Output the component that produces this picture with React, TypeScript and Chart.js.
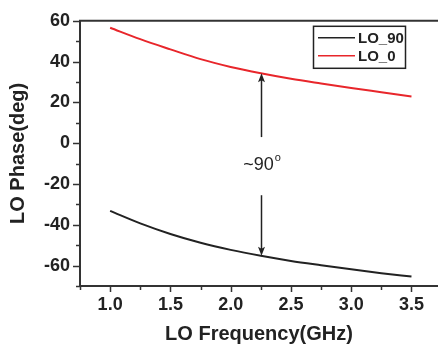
import { useEffect, useRef } from "react";
import { Chart, registerables } from "chart.js";

Chart.register(...registerables);

const freqGHz = [1.0, 1.25, 1.5, 1.75, 2.0, 2.25, 2.5, 2.75, 3.0, 3.25, 3.5];
const lo90 = [-33.2, -39.3, -44.5, -48.8, -52.3, -55.2, -57.7, -59.8, -61.8, -63.7, -65.4];
const lo0 = [56.6, 51.0, 46.0, 41.2, 37.4, 34.3, 31.6, 29.3, 27.1, 25.0, 22.9];
const seriesLabels = ["LO_90", "LO_0"];
const seriesColors = ["#222222", "#e8262b"];

const xTicks = [1.0, 1.5, 2.0, 2.5, 3.0, 3.5];
const xMinorTicks = [0.75, 1.25, 1.75, 2.25, 2.75, 3.25];
const yTicks = [-60, -40, -20, 0, 20, 40, 60];
const yMinorTicks = [-70, -50, -30, -10, 10, 30, 50];
const xRange = [0.75, 3.72];
const yRange = [-70, 60];

const annotationX = 2.25;
const annotationIndex = 5;
const arrowUpFrom = 3;
const arrowDownFrom = -25.5;
const annotationLabelY = -10.7;
const annotationText = "~90";
const annotationSup = "o";

const FONT = "'Liberation Sans', Arial, sans-serif";
const AXIS = "#333333";

const decorPlugin = {
  id: "decor",
  afterDraw(chart: any) {
    const { ctx, chartArea, scales } = chart;
    const xs = scales.x;
    const ys = scales.y;
    ctx.save();
    ctx.strokeStyle = AXIS;
    ctx.lineWidth = 2;
    ctx.beginPath();
    ctx.moveTo(chartArea.left - 1, chartArea.top);
    ctx.lineTo(chartArea.right, chartArea.top);
    ctx.stroke();

    ctx.lineWidth = 1.5;
    const drawY = (v: number, len: number) => {
      const y = Math.round(ys.getPixelForValue(v)) + 0.5;
      ctx.beginPath();
      ctx.moveTo(chartArea.left - len, y);
      ctx.lineTo(chartArea.left, y);
      ctx.stroke();
    };
    const drawX = (v: number, len: number) => {
      const x = Math.round(xs.getPixelForValue(v)) + 0.5;
      ctx.beginPath();
      ctx.moveTo(x, chartArea.bottom);
      ctx.lineTo(x, chartArea.bottom + len);
      ctx.stroke();
    };
    yTicks.forEach((v) => drawY(v, 7));
    yMinorTicks.forEach((v) => drawY(v, 4));
    xTicks.forEach((v) => drawX(v, 6));
    xMinorTicks.forEach((v) => drawX(v, 4));

    const bx = chartArea.right - 125;
    const by = chartArea.top + 5;
    const bw = 92;
    const bh = 42;
    ctx.lineWidth = 1.5;
    ctx.strokeStyle = "#222";
    ctx.strokeRect(bx + 0.5, by + 0.5, bw, bh);
    ctx.font = `bold 15px ${FONT}`;
    ctx.textBaseline = "middle";
    ctx.textAlign = "left";
    chart.data.datasets.forEach((ds: any, i: number) => {
      const ry = by + 12 + i * 18;
      ctx.strokeStyle = ds.borderColor;
      ctx.lineWidth = 1.5;
      ctx.beginPath();
      ctx.moveTo(bx + 5, ry);
      ctx.lineTo(bx + 42, ry);
      ctx.stroke();
      ctx.fillStyle = "#222";
      ctx.fillText(ds.label, bx + 45, ry + 1);
    });

    const ax = Math.round(xs.getPixelForValue(annotationX)) + 0.5;
    const arrow = (fromV: number, toV: number) => {
      const y0 = ys.getPixelForValue(fromV);
      const y1 = ys.getPixelForValue(toV);
      const dir = y1 > y0 ? 1 : -1;
      ctx.strokeStyle = "#222";
      ctx.fillStyle = "#222";
      ctx.lineWidth = 1.5;
      ctx.beginPath();
      ctx.moveTo(ax, y0);
      ctx.lineTo(ax, y1 - dir * 6);
      ctx.stroke();
      ctx.beginPath();
      ctx.moveTo(ax, y1);
      ctx.lineTo(ax - 3.5, y1 - dir * 9);
      ctx.lineTo(ax, y1 - dir * 7);
      ctx.lineTo(ax + 3.5, y1 - dir * 9);
      ctx.closePath();
      ctx.fill();
    };
    arrow(arrowUpFrom, lo0[annotationIndex]);
    arrow(arrowDownFrom, lo90[annotationIndex]);

    const ly = ys.getPixelForValue(annotationLabelY);
    ctx.fillStyle = "#222";
    ctx.font = `18px ${FONT}`;
    ctx.textAlign = "center";
    ctx.textBaseline = "middle";
    ctx.fillText(annotationText, ax - 3, ly);
    const w = ctx.measureText(annotationText).width;
    ctx.font = `11px ${FONT}`;
    ctx.textAlign = "left";
    ctx.fillText(annotationSup, ax - 3 + w / 2 + 1, ly - 7);
    ctx.restore();
  },
};

export default function App() {
  const ref = useRef<HTMLCanvasElement | null>(null);
  useEffect(() => {
    if (!ref.current) return;
    const chart = new Chart(ref.current, {
      type: "line",
      data: {
        datasets: [
          {
            label: seriesLabels[0],
            data: freqGHz.map((x, i) => ({ x, y: lo90[i] })),
            borderColor: seriesColors[0],
            borderWidth: 2,
            pointRadius: 0,
            cubicInterpolationMode: "monotone",
          },
          {
            label: seriesLabels[1],
            data: freqGHz.map((x, i) => ({ x, y: lo0[i] })),
            borderColor: seriesColors[1],
            borderWidth: 2,
            pointRadius: 0,
            cubicInterpolationMode: "monotone",
          },
        ],
      },
      options: {
        animation: false,
        responsive: false,
        layout: { padding: { top: 18, right: 0, left: 0, bottom: 0 } },
        plugins: { legend: { display: false }, tooltip: { enabled: false } },
        scales: {
          x: {
            type: "linear",
            min: xRange[0],
            max: xRange[1],
            afterBuildTicks: (s: any) => {
              s.ticks = xTicks.map((value) => ({ value }));
            },
            afterFit: (s: any) => {
              s.height = 67;
            },
            grid: { display: true, drawOnChartArea: false, drawTicks: false },
            border: { display: true, color: AXIS, width: 2 },
            ticks: {
              padding: 8,
              color: "#222",
              font: { family: FONT, size: 18, weight: "bold" },
              callback: (v: any) => Number(v).toFixed(1),
              maxRotation: 0,
            },
            title: {
              display: true,
              text: "LO Frequency(GHz)",
              color: "#222",
              font: { family: FONT, size: 20, weight: "bold" },
              padding: { top: 0, bottom: 7 },
            },
          },
          y: {
            type: "linear",
            min: yRange[0],
            max: yRange[1],
            afterBuildTicks: (s: any) => {
              s.ticks = yTicks.map((value) => ({ value }));
            },
            afterFit: (s: any) => {
              s.width = 80;
            },
            grid: { display: true, drawOnChartArea: false, drawTicks: false },
            border: { display: true, color: AXIS, width: 2 },
            ticks: {
              padding: 10,
              color: "#222",
              font: { family: FONT, size: 18, weight: "bold" },
            },
            title: {
              display: true,
              text: "LO Phase(deg)",
              color: "#222",
              font: { family: FONT, size: 20, weight: "bold" },
              padding: { top: 6, bottom: 0 },
            },
          },
        },
      } as any,
      plugins: [decorPlugin],
    });
    return () => chart.destroy();
  }, []);
  return (
    <div style={{ position: "absolute", left: 0, top: 0, width: 438, height: 353, background: "#fff" }}>
      <canvas ref={ref} width={438} height={353} />
    </div>
  );
}
